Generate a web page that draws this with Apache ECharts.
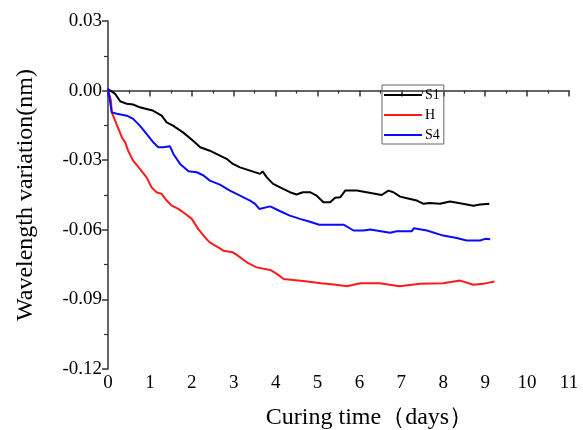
<!DOCTYPE html>
<html>
<head>
<meta charset="utf-8">
<script src="https://cdn.jsdelivr.net/npm/echarts@6/dist/echarts.min.js"></script>
<style>html,body{margin:0;padding:0;background:#fff}#c{width:583px;height:430px}</style>
</head>
<body>
<div id="c"></div>
<script>
const seriesNames = ['S1', 'H', 'S4'];
const xTicks = [0,1,2,3,4,5,6,7,8,9,10,11];
const yTicks = [-0.12,-0.09,-0.06,-0.03,0.00,0.03];

const s1Days = [0,0.06,0.17,0.29,0.45,0.60,0.76,0.92,1.07,1.28,1.40,1.55,1.79,2.03,2.20,2.43,2.67,2.83,2.98,3.15,3.39,3.63,3.69,3.79,3.94,4.18,4.34,4.50,4.65,4.82,4.98,5.14,5.30,5.42,5.54,5.66,5.94,6.17,6.53,6.69,6.81,6.97,7.21,7.37,7.53,7.68,7.92,8.16,8.40,8.72,8.88,9.10];
const s1Vals = [0.0005,0,-0.0014,-0.0046,-0.0057,-0.006,-0.0072,-0.0079,-0.0086,-0.0108,-0.0137,-0.0151,-0.018,-0.0216,-0.0244,-0.0259,-0.028,-0.0294,-0.0316,-0.0331,-0.0345,-0.0359,-0.0348,-0.0374,-0.0402,-0.0424,-0.0438,-0.0448,-0.0438,-0.0438,-0.0453,-0.0481,-0.0481,-0.0462,-0.046,-0.0431,-0.0431,-0.0438,-0.045,-0.0431,-0.0438,-0.0457,-0.0467,-0.0474,-0.0488,-0.0484,-0.0488,-0.0478,-0.0486,-0.0496,-0.0491,-0.0488];

const hDays = [0,0.07,0.09,0.17,0.25,0.33,0.41,0.48,0.60,0.76,0.92,1.04,1.16,1.28,1.40,1.52,1.68,1.84,2.00,2.15,2.31,2.43,2.67,2.75,2.98,3.15,3.31,3.55,3.87,4.03,4.19,4.42,4.66,5.08,5.39,5.70,6.02,6.49,6.96,7.45,8.00,8.40,8.72,8.95,9.22];
const hVals = [0.0005,-0.0043,-0.0094,-0.0129,-0.0165,-0.0201,-0.0223,-0.0259,-0.0302,-0.0337,-0.0374,-0.0417,-0.0438,-0.0445,-0.0474,-0.0496,-0.051,-0.0531,-0.0553,-0.0596,-0.0632,-0.0654,-0.068,-0.069,-0.0697,-0.0718,-0.074,-0.0762,-0.0773,-0.079,-0.0812,-0.0816,-0.0821,-0.083,-0.0836,-0.0843,-0.083,-0.083,-0.0843,-0.0833,-0.083,-0.0819,-0.0837,-0.0833,-0.0823];

const s4Days = [0,0.02,0.09,0.21,0.45,0.60,0.76,0.92,1.08,1.20,1.32,1.48,1.56,1.72,1.92,2.12,2.28,2.43,2.67,2.91,3.15,3.39,3.51,3.61,3.87,4.11,4.34,4.58,4.82,5.04,5.62,5.86,6.10,6.26,6.73,6.89,7.25,7.30,7.61,8.00,8.32,8.56,8.88,9.00,9.12];
const s4Vals = [0.001,0.0005,-0.0094,-0.0100,-0.0108,-0.0122,-0.0151,-0.0187,-0.0223,-0.0244,-0.0244,-0.024,-0.0273,-0.0316,-0.0348,-0.0352,-0.0366,-0.0388,-0.0405,-0.0431,-0.0453,-0.0474,-0.0488,-0.051,-0.0499,-0.052,-0.0539,-0.0553,-0.0565,-0.0578,-0.0578,-0.0603,-0.0603,-0.0599,-0.0613,-0.0606,-0.0606,-0.0593,-0.0603,-0.0625,-0.0635,-0.0646,-0.0646,-0.0639,-0.0641];

const zip = (a, b) => a.map((d, i) => [d, b[i]]);
const colors = ['#000000', '#ff1a1a', '#0a0aff'];
const serif = '"Liberation Serif", "DejaVu Serif", serif';

const chart = echarts.init(document.getElementById('c'));
const lineSeries = (name, x, y, c) => ({
  name, type: 'line', data: zip(x, y), symbol: 'none', color: c,
  silent: true, emphasis: { disabled: true },
  lineStyle: { width: 2, color: c }
});
chart.setOption({
  animation: false,
  backgroundColor: '#ffffff',
  grid: { left: 108, right: 14, top: 21, bottom: 61, containLabel: false, outerBoundsMode: 'none' },
  legend: {
    orient: 'vertical',
    left: 382, top: 85,
    data: seriesNames.map(n => ({ name: n, icon: 'rect' })),
    selectedMode: false,
    borderColor: '#666', borderWidth: 1,
    padding: [3, 4, 2, 2],
    itemGap: 6, itemWidth: 38, itemHeight: 2,
    itemStyle: { borderWidth: 0 },
    textStyle: { fontFamily: serif, fontSize: 14, color: '#000', padding: [0, 0, 0, -2] }
  },
  xAxis: {
    type: 'value', min: 0, max: 11, interval: 1,
    name: 'Curing time（days）', nameLocation: 'middle', nameGap: 37,
    nameTextStyle: { fontFamily: serif, fontSize: 24, color: '#000', padding: [0, 0, 0, 62] },
    axisLine: { show: true, lineStyle: { color: '#333', width: 1.5 } },
    axisTick: { show: true, inside: false, length: 6, lineStyle: { color: '#333', width: 1.5 } },
    minorTick: { show: true, splitNumber: 2, length: 3, lineStyle: { color: '#333', width: 1.2 } },
    splitLine: { show: false },
    axisLabel: { fontFamily: serif, fontSize: 19, color: '#000', margin: 5,
      formatter: v => xTicks.includes(v) ? String(v) : '' }
  },
  yAxis: {
    type: 'value', min: -0.12, max: 0.03, interval: 0.03,
    name: 'Wavelength variation(nm)', nameLocation: 'middle', nameGap: 70,
    nameTextStyle: { fontFamily: serif, fontSize: 24, color: '#000' },
    axisLine: { show: true, lineStyle: { color: '#333', width: 1.5 } },
    axisTick: { show: true, inside: false, length: 6, lineStyle: { color: '#333', width: 1.5 } },
    minorTick: { show: true, splitNumber: 2, length: 4, lineStyle: { color: '#333', width: 1.2 } },
    splitLine: { show: false },
    axisLabel: { fontFamily: serif, fontSize: 19, color: '#000', margin: 6,
      formatter: v => { const t = yTicks.find(k => Math.abs(k - v) < 1e-9); return t === undefined ? '' : t.toFixed(2); } }
  },
  series: [
    lineSeries('S1', s1Days, s1Vals, colors[0]),
    lineSeries('H', hDays, hVals, colors[1]),
    lineSeries('S4', s4Days, s4Vals, colors[2])
  ]
});
</script>
</body>
</html>
